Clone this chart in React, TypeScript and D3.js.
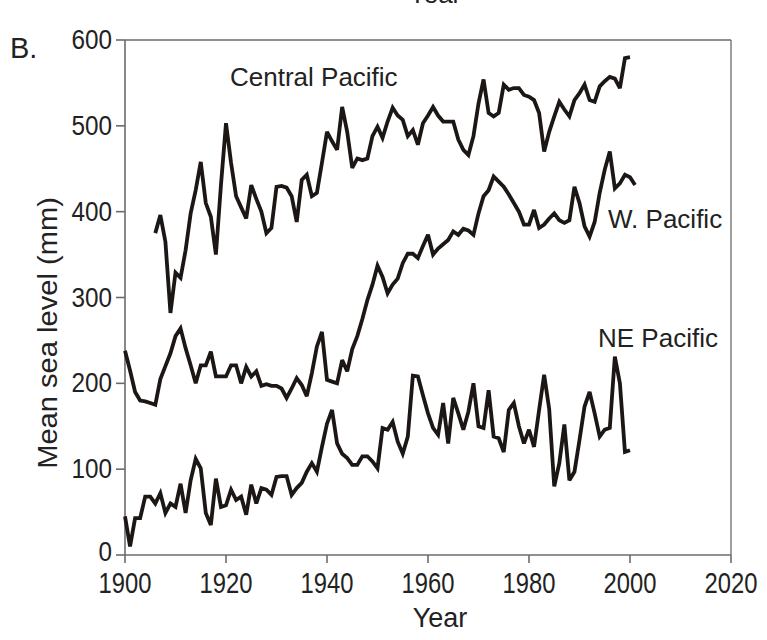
import { useEffect } from "react";
import * as d3 from "d3";

// annual mean sea level (mm)
const centralStart = 1906;
const centralPacific = [
  375, 396, 365, 282, 329, 323, 355, 398, 425, 458,
  410, 394, 350, 431, 503, 457, 418, 405, 392, 431,
  415, 400, 375, 381, 429, 430, 428, 418, 388, 437,
  443, 418, 422, 457, 493, 482, 472, 522, 493, 451,
  462, 460, 462, 488, 499, 486, 505, 521, 512, 507,
  488, 495, 478, 503, 512, 522, 512, 505, 505, 505,
  484, 472, 466, 488, 526, 554, 515, 511, 515, 548,
  542, 544, 544, 536, 534, 530, 515, 470, 493, 511,
  528, 519, 511, 530, 538, 548, 530, 528, 546, 552,
  557, 555, 544, 579, 580,
];

const westStart = 1900;
const westPacific = [
  238, 215, 190, 180, 179, 177, 175, 205, 220, 235,
  255, 264, 241, 221, 200, 221, 221, 237, 208, 208,
  208, 221, 221, 200, 219, 208, 214, 197, 199, 197,
  197, 194, 183, 194, 206, 198, 185, 212, 243, 260,
  204, 202, 200, 227, 214, 240, 255, 275, 297, 315,
  337, 324, 305, 315, 322, 340, 351, 351, 346, 360,
  373, 350, 357, 362, 367, 377, 373, 380, 378, 373,
  398, 418, 425, 441, 435, 429, 420, 410, 400, 385,
  385, 402, 381, 385, 392, 398, 390, 387, 390, 429,
  410, 383, 371, 388, 422, 449, 470, 427, 433, 443,
  440, 431,
];

const neStart = 1900;
const nePacific = [
  45, 10, 43, 43, 68, 68, 60, 72, 49, 60,
  56, 83, 49, 87, 112, 101, 49, 35, 89, 56,
  58, 76, 64, 68, 47, 82, 60, 78, 76, 70,
  91, 92, 92, 70, 78, 84, 97, 107, 97, 126,
  153, 169, 130, 118, 113, 105, 105, 115, 115, 109,
  101, 148, 146, 155, 132, 118, 138, 209, 208, 186,
  165, 148, 140, 177, 130, 183, 165, 146, 167, 200,
  150, 148, 192, 138, 136, 120, 169, 177, 150, 130,
  146, 126, 169, 210, 170, 80, 107, 152, 87, 97,
  134, 173, 190, 165, 138, 146, 148, 231, 200, 120,
  122,
];

const yearTicks = [1900, 1920, 1940, 1960, 1980, 2000, 2020];
const levelTicks = [0, 100, 200, 300, 400, 500, 600];

const W = 767;
const H = 640;
const left = 125;
const right = 731;
const top = 40;
const bottom = 555;

const font = "'Liberation Sans', Arial, sans-serif";
const axisColor = "#6b6b6b";

const x = d3.scaleLinear().domain([1900, 2020]).range([left, right]);
const y = d3.scaleLinear().domain([0, 600]).range([bottom, top]);

const toPoints = (start: number, vals: number[]) =>
  vals.map((v, i) => [start + i, v] as [number, number]);

const line = d3
  .line<[number, number]>()
  .x((d) => x(d[0]))
  .y((d) => y(d[1]));

const series = [
  toPoints(centralStart, centralPacific),
  toPoints(westStart, westPacific),
  toPoints(neStart, nePacific),
];

const App = () => {
  useEffect(() => {
    document.body.style.margin = "0";
  }, []);

  return (
    <svg width={W} height={H} style={{ display: "block", background: "#fff" }}>
      {/* leftover caption from the panel above */}
      <text x={435} y={3} textAnchor="middle" fontFamily={font} fontSize={26} fill="#222">
        Year
      </text>
      <text x={10} y={58} fontFamily={font} fontSize={29} fill="#222">
        B.
      </text>

      {/* frame */}
      <line x1={left} x2={right} y1={top} y2={top} stroke={axisColor} strokeWidth={1.3} />
      <line x1={right} x2={right} y1={top} y2={bottom} stroke={axisColor} strokeWidth={1.3} />
      <line x1={left} x2={left} y1={top} y2={bottom} stroke={axisColor} strokeWidth={1.6} />
      <line x1={left} x2={right} y1={bottom} y2={bottom} stroke={axisColor} strokeWidth={1.6} />

      {levelTicks.map((t) => (
        <g key={t}>
          <line x1={left - 9} x2={left} y1={y(t)} y2={y(t)} stroke={axisColor} strokeWidth={1.6} />
          <text
            transform={`translate(${left - 13},${y(t) + (t === 0 ? 6 : 9)}) scale(0.9,1)`}
            textAnchor="end"
            fontFamily={font}
            fontSize={27}
            fill="#222"
          >
            {t}
          </text>
        </g>
      ))}

      {yearTicks.map((t) => (
        <g key={t}>
          <line x1={x(t)} x2={x(t)} y1={bottom} y2={bottom + 8} stroke={axisColor} strokeWidth={1.6} />
          <text
            transform={`translate(${x(t)},${bottom + 38}) scale(0.85,1.05)`}
            textAnchor="middle"
            fontFamily={font}
            fontSize={28}
            fill="#222"
          >
            {t}
          </text>
        </g>
      ))}

      <text x={440} y={627} textAnchor="middle" fontFamily={font} fontSize={27} fill="#222">
        Year
      </text>
      <text
        transform="translate(57,333) rotate(-90) scale(1.04,1)"
        textAnchor="middle"
        fontFamily={font}
        fontSize={28}
        fill="#222"
      >
        Mean sea level (mm)
      </text>

      {series.map((s, i) => (
        <path
          key={i}
          d={line(s) ?? ""}
          fill="none"
          stroke="#1c1714"
          strokeWidth={3.8}
          strokeLinejoin="miter"
          strokeMiterlimit={3}
        />
      ))}

      <text x={230} y={86} fontFamily={font} fontSize={26} fill="#222">
        Central Pacific
      </text>
      <text x={608} y={228} fontFamily={font} fontSize={26} fill="#222">
        W. Pacific
      </text>
      <text x={598} y={347} fontFamily={font} fontSize={26} fill="#222">
        NE Pacific
      </text>
    </svg>
  );
};

export default App;
